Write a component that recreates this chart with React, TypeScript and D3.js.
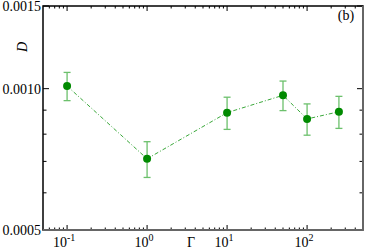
import React from "react";
import * as d3 from "d3";

const gammaValues = [0.1, 1, 10, 50, 100, 250];
const dValues = [0.001013, 0.000709, 0.000889, 0.000968, 0.000862, 0.000893];
const dErrors = [0.00007, 0.000062, 0.00007, 0.00007, 0.000066, 0.00007];
const yMajorTicks = [0.0005, 0.001, 0.0015];
const yTickLabels = ["0.0005", "0.0010", "0.0015"];
const yMinorTicks = [0.0006, 0.0007, 0.0008, 0.0009];
const xMajorTicks = [0.1, 1, 10, 100];
const xTickExponents = ["-1", "0", "1", "2"];

const W = 366, H = 250;
const L = 43, R = 363, T = 6, B = 230;

export default function App() {
  const x = d3.scaleLog().domain([0.05, 500]).range([L, R]);
  const y = d3.scaleLog().domain([0.0005, 0.0015]).range([B, T]);

  const xMinor: number[] = [];
  for (let e = -2; e <= 2; e++) {
    for (let m = 2; m <= 9; m++) {
      const v = m * Math.pow(10, e);
      if (v > 0.05 && v < 500) xMinor.push(v);
    }
  }
  const line = d3.line<number>().x((_, i) => x(gammaValues[i])).y((d) => y(d));
  const font = "Liberation Serif, serif";
  const lineColor = "#3aa83a";
  const errColor = "#6cc06c";
  const markColor = "#008a00";

  return (
    <svg width={W} height={H} style={{ position: "absolute", left: 0, top: 0, background: "#fff", fontFamily: font }}>
      {xMajorTicks.map((v) => (
        <g key={"xM" + v}>
          <line x1={x(v)} x2={x(v)} y1={B} y2={B - 5} stroke="#000" strokeWidth={1} />
          <line x1={x(v)} x2={x(v)} y1={T} y2={T + 5} stroke="#000" strokeWidth={1} />
        </g>
      ))}
      {xMinor.map((v) => (
        <g key={"xm" + v}>
          <line x1={x(v)} x2={x(v)} y1={B} y2={B - 2.5} stroke="#000" strokeWidth={1} />
          <line x1={x(v)} x2={x(v)} y1={T} y2={T + 2.5} stroke="#000" strokeWidth={1} />
        </g>
      ))}
      {yMajorTicks.map((v) => (
        <g key={"yM" + v}>
          <line x1={L} x2={L + 6} y1={y(v)} y2={y(v)} stroke="#000" strokeWidth={1} />
          <line x1={R} x2={R - 6} y1={y(v)} y2={y(v)} stroke="#000" strokeWidth={1} />
        </g>
      ))}
      {yMinorTicks.map((v) => (
        <g key={"ym" + v}>
          <line x1={L} x2={L + 3.5} y1={y(v)} y2={y(v)} stroke="#000" strokeWidth={1} />
          <line x1={R} x2={R - 3.5} y1={y(v)} y2={y(v)} stroke="#000" strokeWidth={1} />
        </g>
      ))}
      <rect x={L} y={T} width={R - L} height={B - T} fill="none" stroke="#000" strokeWidth={1.5} />
      <line x1={L} x2={R} y1={B} y2={B} stroke="#666" strokeWidth={2} />
      <line x1={R} x2={R} y1={T} y2={B} stroke="#666" strokeWidth={2} />

      {yMajorTicks.map((v, i) => (
        <text key={"yl" + v} x={L - 2} y={y(v) + 5} textAnchor="end" fontSize={14} fontFamily={font}>
          {yTickLabels[i]}
        </text>
      ))}
      {xMajorTicks.map((v, i) => (
        <text key={"xl" + v} x={x(v) - 3} y={247} textAnchor="middle" fontSize={14} fontFamily={font}>
          10
          <tspan fontSize={10} dy={-6}>{xTickExponents[i]}</tspan>
        </text>
      ))}
      <text x={191} y={247} textAnchor="middle" fontSize={14} fontFamily={font}>Γ</text>
      <text x={0} y={0} transform="translate(27,47) rotate(-90)" textAnchor="middle" fontSize={14} fontStyle="italic" fontFamily={font}>D</text>
      <text x={346} y={20} textAnchor="middle" fontSize={14} fontFamily={font}>(b)</text>

      <path d={line(dValues) || ""} fill="none" stroke={lineColor} strokeWidth={1} strokeDasharray="4,2,1,2" />
      {dValues.map((d, i) => {
        const cx = x(gammaValues[i]);
        const y1 = y(d + dErrors[i]);
        const y2 = y(d - dErrors[i]);
        return (
          <g key={"e" + i} stroke={errColor} strokeWidth={1.3}>
            <line x1={cx} x2={cx} y1={y1} y2={y2} />
            <line x1={cx - 3.5} x2={cx + 3.5} y1={y1} y2={y1} />
            <line x1={cx - 3.5} x2={cx + 3.5} y1={y2} y2={y2} />
          </g>
        );
      })}
      {dValues.map((d, i) => (
        <circle key={"c" + i} cx={x(gammaValues[i])} cy={y(d)} r={4} fill={markColor} />
      ))}
    </svg>
  );
}
